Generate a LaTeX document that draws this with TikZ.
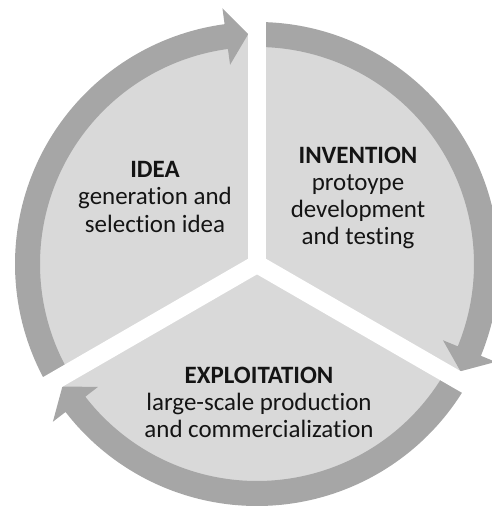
\documentclass[tikz,border=0pt]{standalone}
\usepackage{fontspec}
\setmainfont{Carlito}[Ligatures=NoCommon]
\usepackage{xcolor}
\definecolor{sectorgray}{HTML}{D9D9D9}
\definecolor{ringgray}{HTML}{A6A6A6}
\definecolor{textgray}{HTML}{141414}

\begin{document}
\begin{tikzpicture}[x=0.02cm, y=0.02cm,
      every node/.append style={align=center,color=textgray,font=\fontsize{14.2}{15.4}\selectfont}]
    \tikzstyle{sector} = [fill=sectorgray]
    \tikzstyle{ring} = [fill=ringgray]
    \tikzstyle{gap} = [draw=white,line width=0.36cm]
    \useasboundingbox (0,0) rectangle (491,509);
    \begin{scope}[shift={(257,245)}]
      \fill[sector] (0,0) circle[radius=230];
      \foreach \s/\t in {210/92.2, 90/-27.8, -30/-147.8} {
        \pgfmathsetmacro{\b}{\t+5.5}
        \fill[ring] (\s:242) arc[start angle=\s, end angle=\b, radius=242]
          -- (\b:258) -- (\t:230) -- (\b:201) -- (\b:217)
          arc[start angle=\b, end angle=\s, radius=217] -- cycle;
      }
      \foreach \a in {90,210,330}
        \draw[gap] (0,0) -- (\a:275);
    \end{scope}
    \node (idea) at (155,312) {\textbf{IDEA}\\generation and\\selection idea};
    \node (invention) at (358,311) {\textbf{INVENTION}\\protoype\\development\\and testing};
    \node (exploitation) at (259,107) {\textbf{EXPLOITATION}\\large-scale production\\and commercialization};
\end{tikzpicture}
\end{document}
